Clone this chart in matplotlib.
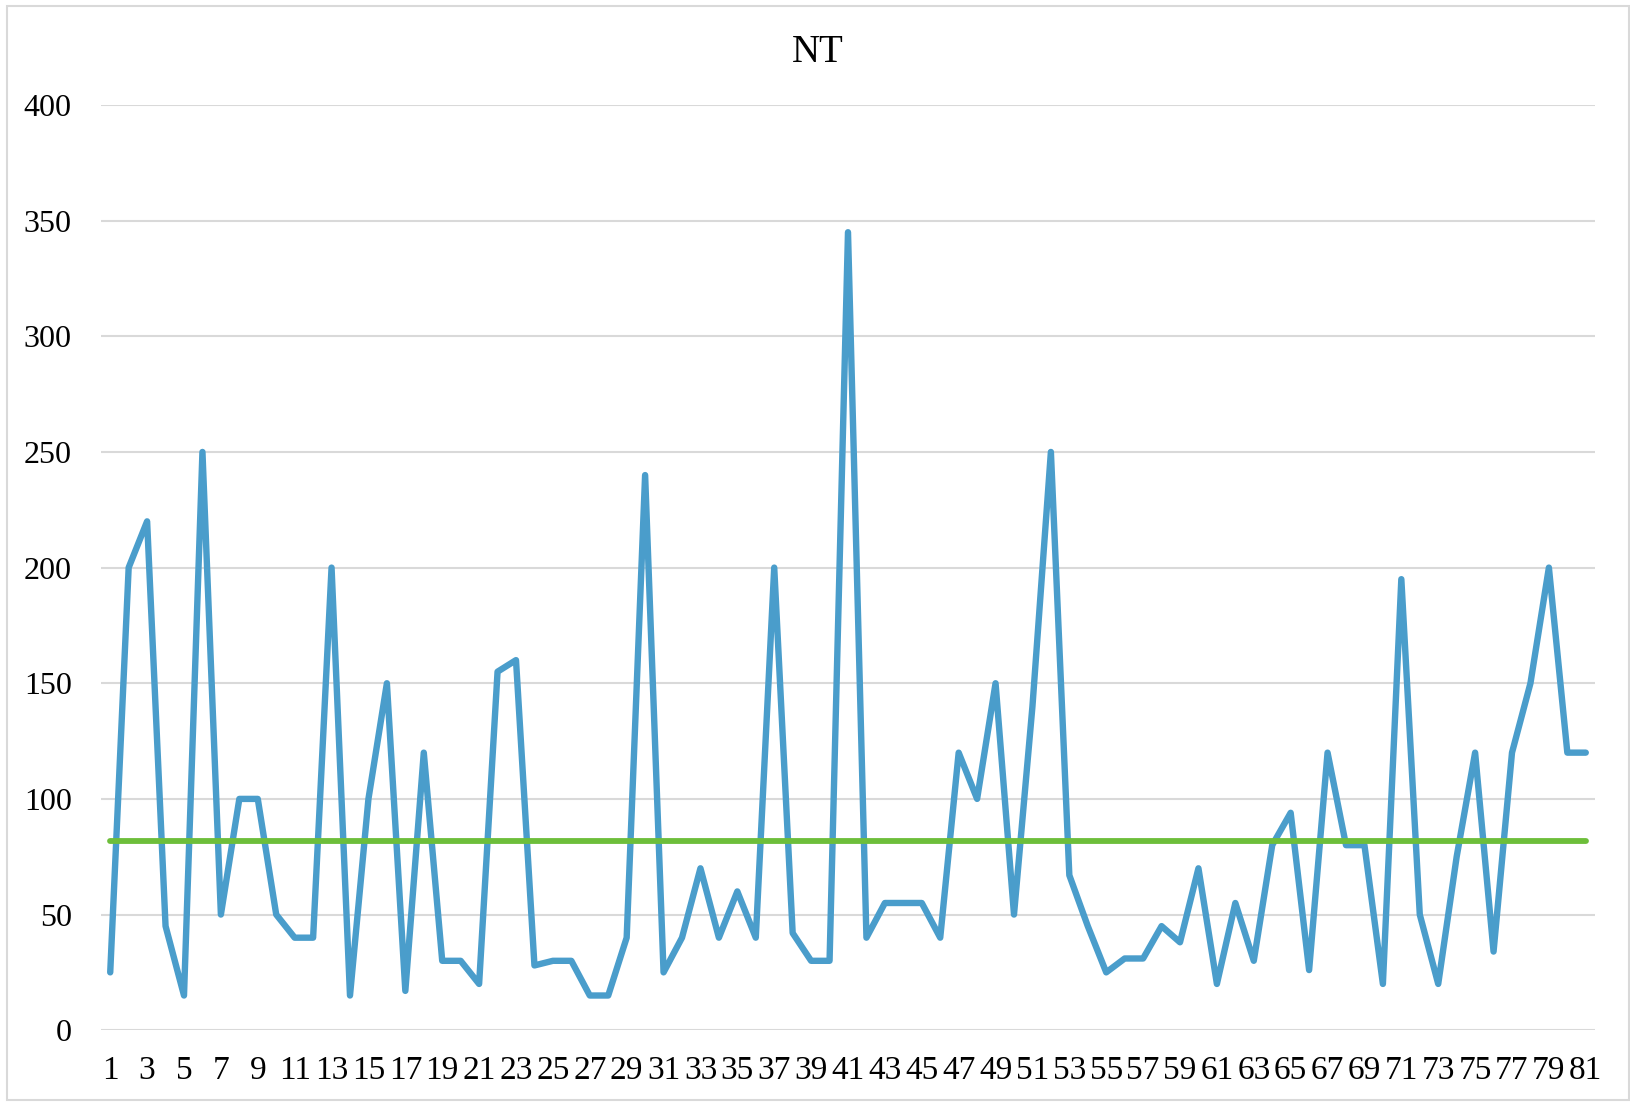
import matplotlib
matplotlib.use("Agg")
import matplotlib.pyplot as plt
from matplotlib.patches import Rectangle

# ---- data ----
categories = list(range(1, 82))
nt_values = [25, 200, 220, 45, 15, 250, 50, 100, 100, 50,
             40, 40, 200, 15, 100, 150, 17, 120, 30, 30,
             20, 155, 160, 28, 30, 30, 15, 15, 40, 240,
             25, 40, 70, 40, 60, 40, 200, 42, 30, 30,
             345, 40, 55, 55, 55, 40, 120, 100, 150, 50,
             140, 250, 67, 45, 25, 31, 31, 45, 38, 70,
             20, 55, 30, 80, 94, 26, 120, 80, 80, 20,
             195, 50, 20, 75, 120, 34, 120, 150, 200, 120,
             120]
average_value = 82
y_ticks = [0, 50, 100, 150, 200, 250, 300, 350, 400]
x_tick_labels = [str(c) for c in categories if c % 2 == 1]
title = "NT"

plt.rcParams['font.family'] = ['Liberation Serif', 'DejaVu Serif']

W, H = 1631, 1103
fig = plt.figure(figsize=(W / 100, H / 100), dpi=100)

# outer chart border
fig.patches.append(Rectangle((7 / W, 3 / H), (1629 - 7) / W, (1097 - 3) / H,
                             transform=fig.transFigure, fill=False,
                             edgecolor='#D9D9D9', linewidth=1.5))

left, right, top, bottom = 101, 1595, 105, 1030.2
ax = fig.add_axes([left / W, 1 - bottom / H, (right - left) / W, (bottom - top) / H])

blue = '#4A9DCB'
green = '#6DBE3A'

ax.plot(categories, nt_values, color=blue, linewidth=4.6,
        solid_joinstyle='round', solid_capstyle='round', zorder=3)
ax.plot(categories, [average_value] * len(categories), color=green, linewidth=4.2,
        solid_capstyle='round', zorder=4)

ax.set_xlim(0.5, 81.5)
ax.set_ylim(0, 400)
ax.set_yticks(y_ticks)
ax.set_yticklabels([str(v) for v in y_ticks])
ax.set_xticks([c for c in categories if c % 2 == 1])
ax.set_xticklabels(x_tick_labels)

ax.grid(axis='y', color='#D9D9D9', linewidth=1.5, zorder=0)
ax.set_axisbelow(True)
for s in ax.spines.values():
    s.set_visible(False)
ax.tick_params(axis='both', length=0, colors='black')
ax.tick_params(axis='y', pad=21, labelsize=23)
ax.tick_params(axis='x', pad=18.5, labelsize=24)

fig.text(818 / W, 1 - 61.7 / H, title, ha='center', va='baseline', fontsize=28)

fig.savefig('out.png', dpi=100)
